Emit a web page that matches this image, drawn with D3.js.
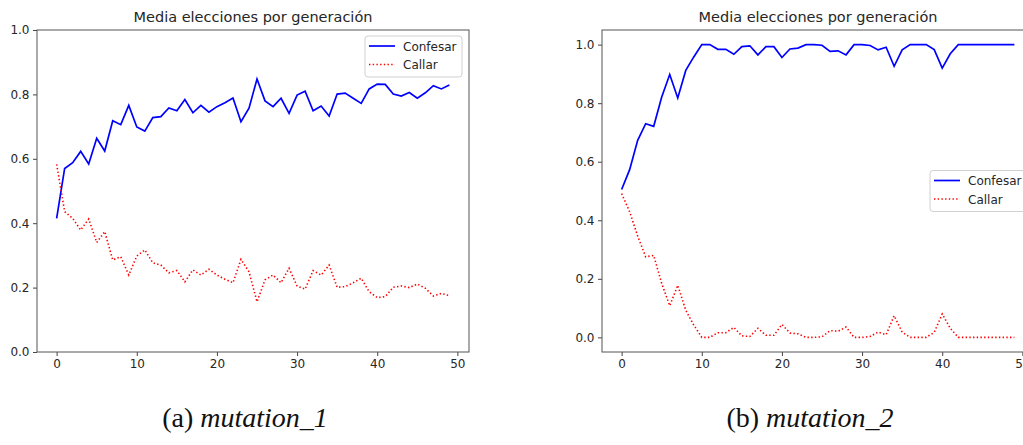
<!DOCTYPE html>
<html>
<head>
<meta charset="utf-8">
<script src="https://cdn.jsdelivr.net/npm/d3@7"></script>
<style>
  body { margin: 0; background: #fff; }
  svg { display: block; }
  .tick text { font-family: "DejaVu Sans", sans-serif; font-size: 12px; fill: #262626; }
  .tick line { stroke: #444; }
  .title { font-family: "DejaVu Sans", sans-serif; font-size: 14.5px; fill: #262626; }
  .legendText { font-family: "DejaVu Sans", sans-serif; font-size: 12px; fill: #262626; }
  .caption { font-family: "Liberation Serif", serif; font-size: 28px; fill: #111; }
</style>
</head>
<body>
<svg id="chart" width="1023" height="445"></svg>
<script>
// Data (generation 0..49)
var xTicks = [0, 10, 20, 30, 40, 50];
var yTicks = [0, 0.2, 0.4, 0.6, 0.8, 1.0];
var seriesNames = ["Confesar", "Callar"];

var confesar1 = [0.415, 0.570, 0.588, 0.623, 0.584, 0.664, 0.624, 0.718, 0.706, 0.766,
  0.699, 0.686, 0.728, 0.731, 0.758, 0.749, 0.784, 0.743, 0.766, 0.745,
  0.762, 0.774, 0.789, 0.715, 0.757, 0.848, 0.780, 0.762, 0.788, 0.741,
  0.798, 0.810, 0.749, 0.764, 0.733, 0.801, 0.804, 0.788, 0.772, 0.817,
  0.832, 0.831, 0.801, 0.795, 0.806, 0.788, 0.805, 0.827, 0.817, 0.829];
var callar1 = [0.583, 0.436, 0.415, 0.379, 0.413, 0.340, 0.374, 0.286, 0.296, 0.239,
  0.298, 0.317, 0.277, 0.270, 0.246, 0.253, 0.218, 0.255, 0.239, 0.257,
  0.239, 0.226, 0.215, 0.288, 0.249, 0.156, 0.224, 0.239, 0.215, 0.260,
  0.205, 0.195, 0.253, 0.239, 0.270, 0.201, 0.203, 0.215, 0.229, 0.187,
  0.169, 0.172, 0.201, 0.205, 0.200, 0.211, 0.198, 0.174, 0.182, 0.175];

var confesar2 = [0.505, 0.573, 0.673, 0.730, 0.721, 0.821, 0.898, 0.818, 0.912, 0.958,
  1.000, 1.000, 0.984, 0.984, 0.967, 0.993, 0.996, 0.965, 0.993, 0.993,
  0.956, 0.985, 0.988, 1.000, 1.000, 0.998, 0.977, 0.979, 0.965, 1.000,
  1.000, 0.997, 0.982, 0.991, 0.926, 0.982, 1.000, 1.000, 1.000, 0.983,
  0.920, 0.969, 1.000, 1.000, 1.000, 1.000, 1.000, 1.000, 1.000, 1.000];
var callar2 = [0.491, 0.429, 0.346, 0.275, 0.280, 0.184, 0.108, 0.178, 0.093, 0.042,
  0.000, 0.000, 0.016, 0.016, 0.034, 0.005, 0.003, 0.031, 0.007, 0.007,
  0.044, 0.015, 0.012, 0.000, 0.000, 0.002, 0.023, 0.021, 0.035, 0.000,
  0.000, 0.003, 0.018, 0.009, 0.074, 0.018, 0.000, 0.000, 0.000, 0.017,
  0.080, 0.031, 0.000, 0.000, 0.000, 0.000, 0.000, 0.000, 0.000, 0.000];

var svg = d3.select("#chart");

var panels = [
  { left: 37, confesar: confesar1, callar: callar1, yDomain: [0, 1],
    legend: "upper right", caption: "(a) ", name: "mutation_1", capX: 245 },
  { left: 602, confesar: confesar2, callar: callar2, yDomain: [-0.05, 1.05],
    legend: "center right", caption: "(b) ", name: "mutation_2", capX: 810 }
];

var axWidth = 432, axTop = 30, axBottom = 352;

panels.forEach(function(p) {
  var x = d3.scaleLinear().domain([-2.45, 51.45]).range([p.left, p.left + axWidth]);
  var y = d3.scaleLinear().domain(p.yDomain).range([axBottom, axTop]);

  var g = svg.append("g");

  // Lines
  var line = d3.line().x((d, i) => x(i)).y(d => y(d));

  g.append("path")
    .datum(p.confesar)
    .attr("d", line)
    .attr("fill", "none")
    .attr("stroke", "#0000ff")
    .attr("stroke-width", 1.7);

  g.append("path")
    .datum(p.callar)
    .attr("d", line)
    .attr("fill", "none")
    .attr("stroke", "#ff0000")
    .attr("stroke-width", 1.6)
    .attr("stroke-dasharray", "1.4,2.3");

  // Axes
  g.append("g")
    .attr("transform", `translate(0, ${axBottom})`)
    .call(d3.axisBottom(x).tickValues(xTicks).tickSize(4).tickPadding(3.5).tickFormat(d3.format("d")))
    .call(a => a.select(".domain").remove());

  g.append("g")
    .attr("transform", `translate(${p.left}, 0)`)
    .call(d3.axisLeft(y).tickValues(yTicks).tickSize(4).tickPadding(3.5).tickFormat(d3.format(".1f")))
    .call(a => a.select(".domain").remove());

  // Frame
  g.append("rect")
    .attr("x", p.left)
    .attr("y", axTop)
    .attr("width", axWidth)
    .attr("height", axBottom - axTop)
    .attr("fill", "none")
    .attr("stroke", "#555")
    .attr("stroke-width", 1);

  // Title
  g.append("text")
    .attr("class", "title")
    .attr("x", p.left + axWidth / 2)
    .attr("y", 22)
    .attr("text-anchor", "middle")
    .text("Media elecciones por generación");

  // Legend
  var boxW = 97, boxH = 41;
  var bx = p.left + axWidth - 7 - boxW;
  var by = p.legend == "upper right" ? axTop + 6 : (axTop + axBottom) / 2 - boxH / 2;
  var leg = g.append("g").attr("transform", `translate(${bx}, ${by})`);
  leg.append("rect")
    .attr("width", boxW)
    .attr("height", boxH)
    .attr("rx", 3)
    .attr("fill", "#fff")
    .attr("fill-opacity", 0.8)
    .attr("stroke", "#d0d0d0");
  seriesNames.forEach(function(s, i) {
    var ly = 10 + i * 18.5;
    leg.append("line")
      .attr("x1", 4).attr("x2", 30)
      .attr("y1", ly).attr("y2", ly)
      .attr("stroke", i == 0 ? "#0000ff" : "#ff0000")
      .attr("stroke-width", i == 0 ? 1.7 : 1.6)
      .attr("stroke-dasharray", i == 0 ? null : "1.4,2.3");
    leg.append("text")
      .attr("class", "legendText")
      .attr("x", 38)
      .attr("y", ly + 4.5)
      .text(s);
  });

  // Caption under each subfigure
  var cap = svg.append("text")
    .attr("class", "caption")
    .attr("x", p.capX)
    .attr("y", 427)
    .attr("text-anchor", "middle");
  cap.append("tspan").text(p.caption);
  cap.append("tspan").attr("font-style", "italic").text(p.name);
});
</script>
</body>
</html>
